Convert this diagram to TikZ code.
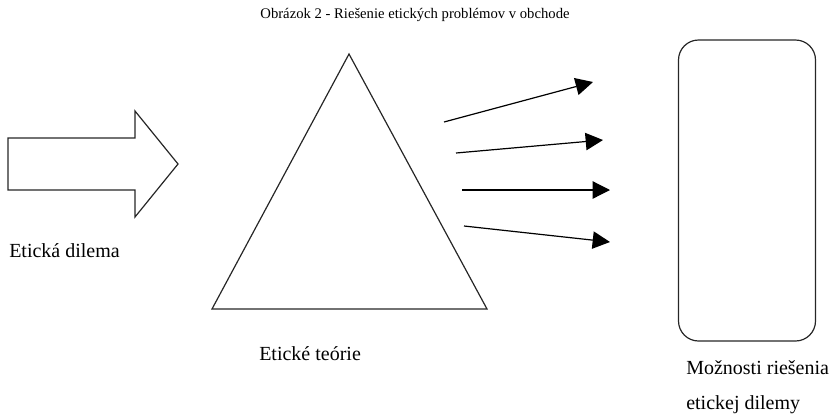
\documentclass[tikz,border=0pt]{standalone}
\usepackage{fontspec}
\setmainfont{Liberation Serif}
\usetikzlibrary{arrows.meta}
\tikzset{
  outline/.style={draw=black!85,line width=0.9pt},
  ray/.style={draw=black,line width=0.9pt,-{Triangle[length=13pt,width=13pt]}},
  label/.style={anchor=base west,inner sep=0pt,font=\fontsize{15}{18}\selectfont}
}
\begin{document}
\begin{tikzpicture}[x=0.75pt,y=-0.75pt]
    \useasboundingbox (0,0) rectangle (830,415);
    \node[inner sep=0pt,anchor=base,font=\fontsize{11}{13}\selectfont] (title) at (415,18) {Obrázok 2 - Riešenie etických problémov v obchode};
    % vstup
    \draw[outline] (8,138) -- (135,138) -- (135,111) -- (178,164) -- (135,217) -- (135,190) -- (8,190) -- cycle;
    \node[label] (dilema) at (9,257) {Etická dilema};
    % teorie
    \draw[outline] (349,54) -- (487,309) -- (212,309) -- cycle;
    \node[label] (teorie) at (259,360) {Etické teórie};
    % vysledky
    \node[outline,rounded corners=15pt,minimum width=102.75pt,minimum height=225.75pt] (moznosti) at (747,190.5) {};
    \node[label] (text1) at (686,374) {Možnosti riešenia};
    \node[label] (text2) at (686,409) {etickej dilemy};
    \coordinate (a1) at (444,122); \coordinate (b1) at (593,82);
    \coordinate (a2) at (456,153); \coordinate (b2) at (603,140);
    \coordinate (a3) at (462,190); \coordinate (b3) at (610,190);
    \coordinate (a4) at (464,226); \coordinate (b4) at (610,242);
    \foreach \i in {1,...,4}
        \draw[ray] (a\i) -- (b\i);
\end{tikzpicture}
\end{document}
